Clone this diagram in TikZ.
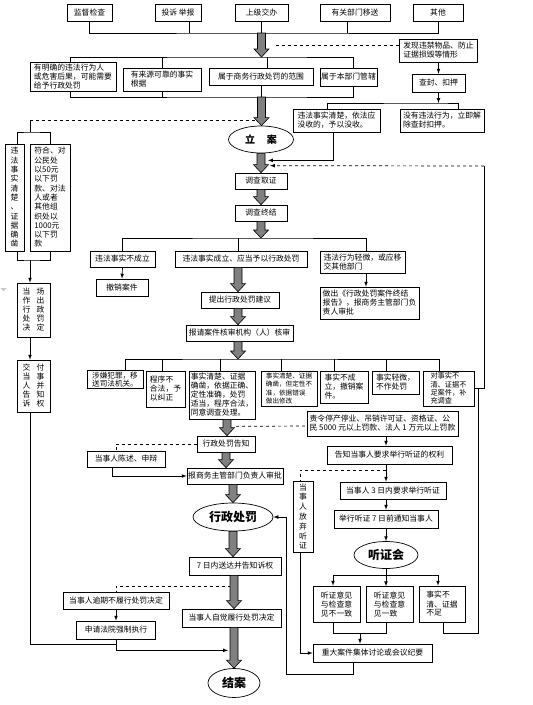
\documentclass[tikz,border=0pt]{standalone}
\usepackage{fontspec}
\setmainfont{Noto Sans CJK SC}
\XeTeXlinebreaklocale "zh"
\usepackage{tikz}
\usetikzlibrary{calc,arrows,shapes.geometric}

% grey block arrow, drawn straight down from #1 to #2
\newcommand{\fatarrow}[2]{%
  \filldraw[fat] let \p1=(#1), \p2=(#2) in
    (\x1-4pt,\y1) -- (\x1-4pt,\y2+8pt) -- (\x1-7.5pt,\y2+8pt) -- (\x1,\y2)
    -- (\x1+7.5pt,\y2+8pt) -- (\x1+4pt,\y2+8pt) -- (\x1+4pt,\y1) -- cycle;}

\begin{document}
\begin{tikzpicture}[x=1pt,y=-1pt,
    box/.style={draw,line width=0.7pt,inner sep=1.2pt,align=left,font=\fontsize{7.8}{9}\selectfont},
    vbox/.style={box,align=center},
    oval/.style={draw,ellipse,line width=0.7pt,inner sep=0pt,font=\fontsize{12}{14}\selectfont\bfseries},
    ln/.style={line width=0.7pt},
    arr/.style={line width=0.7pt,-latex},
    dashln/.style={line width=0.7pt,dashed},
    fat/.style={fill=gray,draw=black,line width=0.6pt}]
  \useasboundingbox (0,0) rectangle (533,705);

  % sources
  \node[box,minimum width=45,minimum height=17] (src1) at (89.5,12.5) {监督检查};
  \node[box,minimum width=46,minimum height=17] (src2) at (178,12.5) {投诉\ 举报};
  \node[box,minimum width=53,minimum height=17] (src3) at (261.5,12.5) {上级交办};
  \node[box,minimum width=70,minimum height=17] (src4) at (355,12.5) {有关部门移送};
  \node[box,minimum width=50,minimum height=17] (src5) at (438,12.5) {其他};

  % seizure branch
  \node[box,minimum width=78,minimum height=23] (fx) at (438.5,50.5) {发现违禁物品、防止\\证据损毁等情形};
  \node[box,minimum width=53,minimum height=18] (cf) at (438.5,83) {查封、扣押};
  \node[box,minimum width=87,minimum height=23] (mz1) at (336.5,120.5) {违法事实清楚，依法应\\没收的，予以没收。};
  \node[box,minimum width=84,minimum height=23] (mz2) at (442,120.5) {没有违法行为，立即解\\除查封扣押。};

  % conditions
  \node[box,minimum width=86,minimum height=29] (cA) at (73,76.5) {有明确的违法行为人\\或危害后果，可能需要\\给予行政处罚};
  \node[box,minimum width=78,minimum height=23] (cB) at (162,79.5) {有来源可靠的事实\\根据};
  \node[box,minimum width=104,minimum height=17] (cC) at (261,76.5) {属于商务行政处罚的范围};
  \node[box,minimum width=57,minimum height=18] (cD) at (348.5,77) {属于本部门管辖};

  \node[oval,minimum width=65,minimum height=27,font=\fontsize{10}{12}\selectfont\bfseries] (la) at (261,139.5) {立\hspace{1.2em}案};

  % simple procedure
  \node[vbox,minimum width=19,minimum height=107,font=\fontsize{7.8}{9.3}\selectfont] (sq1) at (14.5,197.5) {违\\法\\事\\实\\清\\楚\\、\\证\\据\\确\\凿};
  \node[box,minimum width=40,minimum height=107,font=\fontsize{7.8}{9.3}\selectfont] (sq2) at (50,197.5) {符合、对\\公民处\\以50元\\以下罚\\款、对法\\人或者\\其他组\\织处以\\1000元\\以下罚\\款};
  \node[vbox,minimum width=33,minimum height=54] (dc) at (33.5,310) {当\hspace{.8em}场\\作\hspace{.8em}出\\行\hspace{.8em}政\\处\hspace{.8em}罚\\决\hspace{.8em}定};
  \node[vbox,minimum width=33,minimum height=52] (jf) at (33.5,386) {交\hspace{.8em}付\\当\hspace{.8em}事\\人\hspace{.8em}并\\告\hspace{.8em}知\\诉\hspace{.8em}权};

  % investigation
  \node[box,minimum width=52,minimum height=16] (dc1) at (261,181) {调查取证};
  \node[box,minimum width=52,minimum height=16] (dc2) at (261,213) {调查终结};
  \node[box,minimum width=65,minimum height=16] (r1) at (122.5,259) {违法事实不成立};
  \node[box,minimum width=132,minimum height=16] (r2) at (241,259) {违法事实成立、应当予以行政处罚};
  \node[box,minimum width=85,minimum height=22] (r3) at (362.5,262) {违法行为轻微，或应移\\交其他部门};
  \node[box,minimum width=52,minimum height=17] (cx) at (122,287.5) {撤销案件};
  \node[box,minimum width=99,minimum height=32] (zj) at (369.5,303) {做出《行政处罚案件终结\\报告》，报商务主管部门负\\责人审批};
  \node[box,minimum width=78,minimum height=16] (jy) at (240,300) {提出行政处罚建议};
  \node[box,minimum width=107,minimum height=16] (hs) at (239.5,333) {报请案件核审机构（人）核审};

  % review results
  \node[box,minimum width=56,minimum height=17,font=\fontsize{7.6}{8}\selectfont] (h1) at (115,379.5) {涉嫌犯罪，移\\送司法机关。};
  \node[box,minimum width=39,minimum height=36] (h2) at (165.5,389) {程序不\\合法，予\\以纠正};
  \node[box,minimum width=66,minimum height=48] (h3) at (222,395) {事实清楚、证据\\确凿，依据正确、\\定性准确，处罚\\适当，程序合法，\\同意调查处理。};
  \node[box,minimum width=56,minimum height=35,font=\fontsize{6.6}{8.2}\selectfont] (h4) at (289,388.5) {事实清楚、证据\\确凿，但定性不\\准，依据错误\\做出修改};
  \node[box,minimum width=48,minimum height=32] (h5) at (344,387) {事实不成\\立，撤销案\\件。};
  \node[box,minimum width=47,minimum height=23] (h6) at (395.5,382.5) {事实轻微，\\不作处罚};
  \node[box,minimum width=51,minimum height=35,font=\fontsize{7.2}{8.2}\selectfont] (h7) at (448.5,388.5) {对事实不\\清、证据不\\足案件，补\\充调查};

  % decision
  \node[box,minimum width=151,minimum height=25] (zt) at (382.5,423.5) {责令停产停业、吊销许可证、资格证、公\\民 5000 元以上罚款、法人 1 万元以上罚款};
  \node[box,minimum width=58,minimum height=16] (xz) at (226,444) {行政处罚告知};
  \node[box,minimum width=78,minimum height=16] (cs) at (126,459) {当事人陈述、申辩};
  \node[box,minimum width=92,minimum height=16] (sp) at (235,476) {报商务主管部门负责人审批};
  \node[oval,minimum width=80,minimum height=28] (xzcf) at (233,517) {行政处罚};
  \node[box,minimum width=92,minimum height=18] (sd) at (235,566) {7 日内送达并告知诉权};
  \node[box,minimum width=106,minimum height=17] (yq) at (116,600.5) {当事人逾期不履行处罚决定};
  \node[box,minimum width=79,minimum height=18] (fy) at (116,630) {申请法院强制执行};
  \node[box,minimum width=99,minimum height=18] (zj2) at (231.5,618) {当事人自觉履行处罚决定};
  \node[oval,minimum width=52,minimum height=29] (ja) at (234,683) {结案};

  % hearing
  \node[box,minimum width=125,minimum height=18] (gz) at (389.5,455) {告知当事人要求举行听证的权利};
  \node[box,minimum width=106,minimum height=17] (ye) at (393,490.5) {当事人 3 日内要求举行听证};
  \node[vbox,minimum width=20,minimum height=71,font=\fontsize{7.8}{9.8}\selectfont] (fq) at (303,516.5) {当\\事\\人\\放\\弃\\听\\证};
  \node[box,minimum width=104,minimum height=18] (tz) at (386,519) {举行听证 7 日前通知当事人};
  \node[oval,minimum width=64,minimum height=27] (th) at (386,555) {听证会};
  \node[box,minimum width=47,minimum height=36] (t1) at (336.5,604) {听证意见\\与检查意\\见不一致};
  \node[box,minimum width=47,minimum height=36] (t2) at (389.5,604) {听证意见\\与检查意\\见一致};
  \node[box,minimum width=46,minimum height=36] (t3) at (442,604) {事实不\\清、证据\\不足};
  \node[box,minimum width=119,minimum height=18] (zd) at (372.5,653) {重大案件集体讨论或会议纪要};

  % stray marker
  \fill[gray!45] (0.5,288) -- (6.5,288) -- (3.5,291) -- cycle;

  % sources to conditions
  \coordinate (bus) at (261.5,33);
  \coordinate (cond) at (261.5,57);
  \coordinate (cond2) at (261.5,97);
  \draw[ln] (src1.south) |- (bus) -| (src5.south);
  \draw[ln] ([xshift=11]src2.south) -- ++(0,12);
  \draw[ln] (src3.south) -- (bus);
  \draw[ln] ([xshift=-8]src4.south) -- ++(0,12);
  \draw[dashln] (276,45) -- (fx.west |- 0,45);
  \draw[ln] ($(cA.north)+(-3,0)$) |- (cond) -| ($(cD.north)+(4.5,0)$);
  \draw[ln] (cB.north) -- ++(0,-11);
  \draw[ln] ($(cC.north)+(6,0)$) -- ++(0,-11);
  \draw[ln] ($(cA.south)+(-3,0)$) |- (cond2) -| ($(cD.south)+(4.5,0)$);
  \draw[ln] (cB.south) -- ++(0,6);
  \draw[ln] (cC.south) -- ++(0,12);

  % seizure
  \coordinate (mzb) at (438.5,103);
  \draw[arr] (fx.south) -- (cf.north);
  \draw[arr] (cf.south) -- (mzb);
  \draw[ln] ($(mz1.north)+(-9.5,0)$) |- (mzb) -| ($(mz2.north)+(16,0)$);
  \draw[arr] ($(mz1.south)+(-3.5,0)$) |- ($(la.south)+(7,7)$);

  % simple procedure
  \coordinate (lt) at (30,120);
  \coordinate (lb) at (30,260);
  \draw[dashln] (la.north |- lt) -- (lt);
  \draw[ln] (lt) -- ++(0,12);
  \draw[ln] ($(sq1.north)+(2.5,0)$) |- ($(lt)+(0,12)$) -| (sq2.north);
  \draw[ln] ($(sq1.south)+(2.5,0)$) |- (lb) -| (sq2.south);
  \draw[arr] (lb) -- ($(dc.north)+(-3.5,0)$);
  \draw[arr] ($(dc.south)+(-3.5,0)$) -- ($(jf.north)+(-3.5,0)$);
  \draw[ln] ($(jf.south)+(-3.5,0)$) |- ($(fy.south)+(0,5)$);

  % investigation
  \coordinate (jb) at (261,238);
  \coordinate (rt) at (484,166);
  \draw[ln] (r1.north) |- (jb) -| ($(r3.north)+(3.5,0)$);
  \draw[ln] ($(r2.north)+(-3,0)$) -- ++(0,-13);
  \draw[arr] (r1.south) -- (cx.north);
  \draw[arr] ($(r3.south)+(3.5,0)$) -- ($(zj.north)+(-3.5,0)$);
  \draw[ln] (h7.east) -| (rt);
  \draw[dashln,-latex] (rt) -- ($(dc1.north)+(9,-7)$);

  % review results
  \coordinate (hb) at (238,359);
  \draw[ln] ($(h1.north)+(10,0)$) |- (hb) -| ($(h7.north)+(-9.5,0)$);
  \foreach \n/\dx in {h2/-3.5,h3/-2,h4/-8,h5/-10,h6/-9.5}
    \draw[ln] ($(\n.north)+(\dx,0)$) -- ++(0,-12);
  \draw[dashln] ($(h3.south)+(14,7)$) -- ($(zt.west)+(0,2.5)$);
  \draw[arr] ($(zt.south)+(3.5,0)$) -- ($(gz.north)+(-3.5,0)$);

  % decision
  \draw[dashln] (xz.west) -| ($(cs.north)+(-10,0)$);
  \draw[arr] ($(cs.south)+(-14,0)$) |- (sp.west);
  \draw[dashln] ($(sd.south)+(-4,11)$) -| (yq.north);
  \draw[arr] (yq.south) -- (fy.north);
  \draw[arr] (fy.south) |- ($(zj2.south)+(-3.5,23)$);
  \draw[arr] ($(zd.south)+(-19.5,0)$) |- ($(zd.south)+(-86.5,12)$) |- (xzcf.east);

  % hearing
  \draw[arr] ($(gz.south)+(-3.5,0)$) -- ($(ye.north)+(-7,0)$);
  \draw[dashln] ($(gz.south)+(-3.5,6)$) -| ($(fq.north)+(-3,0)$);
  \draw[arr] ($(fq.south)+(-3,0)$) |- (zd.west);
  \draw[arr] ($(ye.south)+(-7,0)$) -- (tz.north);
  \draw[arr] (tz.south) -- (th.north);
  \draw[ln] (th.south) -- ++(0,6) coordinate (tb);
  \draw[arr] (tb) -- ++(0,11.5);
  \draw[arr] (tb) -| ($(t1.north)+(-3.5,0)$);
  \draw[arr] (tb) -| ($(t3.north)+(-4,0)$);
  \draw[ln] ($(t1.south)+(-3.5,0)$) |- ($(t2.south)+(-3.5,11)$) -- ($(t2.south)+(-3.5,0)$);
  \draw[arr] ($(t1.south)+(23.5,11)$) -- ($(zd.north)+(-12.5,0)$);
  \draw[ln] ($(t3.south)+(1,0)$) |- ($(h7.east)+(4,244.5)$) -- ($(h7.east)+(4,0)$);

  % block arrows
  \fatarrow{bus}{cond}
  \fatarrow{cond2}{la.north}
  \fatarrow{la.south}{dc1.north}
  \fatarrow{dc1.south}{dc2.north}
  \fatarrow{dc2.south}{jb}
  \fatarrow{$(r2.south)+(-3,0)$}{jy.north}
  \fatarrow{$(jy.south)+(-2,0)$}{hs.north}
  \fatarrow{$(hs.south)+(-1.5,0)$}{hb}
  \fatarrow{$(h3.south)+(5,0)$}{xz.north}
  \fatarrow{xz.south}{sp.north}
  \fatarrow{$(sp.south)+(-2,0)$}{xzcf.north}
  \fatarrow{xzcf.south}{sd.north}
  \fatarrow{$(sd.south)+(-1,0)$}{zj2.north}
  \fatarrow{$(zj2.south)+(2.5,0)$}{ja.north}
\end{tikzpicture}
\end{document}
